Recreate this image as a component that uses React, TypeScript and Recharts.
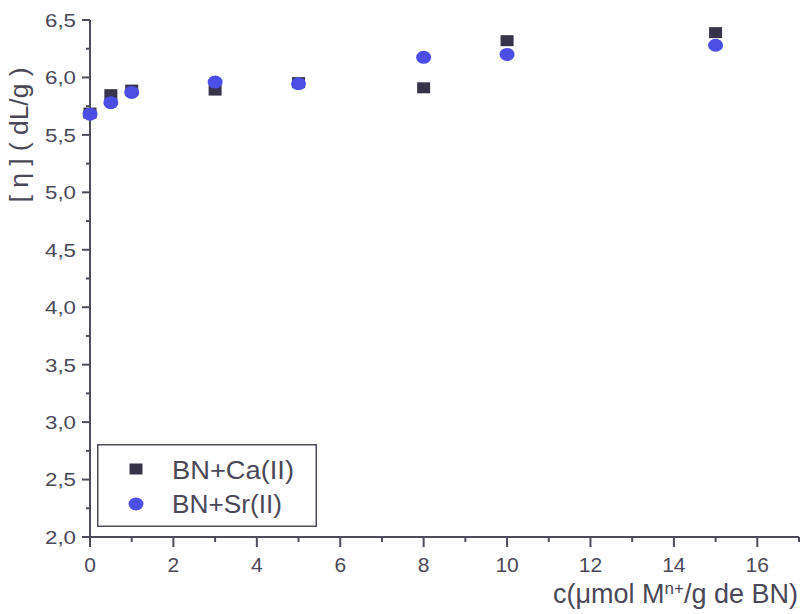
import React from 'react';
import { ScatterChart, Scatter, XAxis, YAxis, Legend } from 'recharts';

const concentrations = [0, 0.5, 1, 3, 5, 8, 10, 15];
const caValues = [5.69, 5.85, 5.89, 5.89, 5.955, 5.91, 6.32, 6.39];
const srValues = [5.68, 5.78, 5.87, 5.96, 5.945, 6.175, 6.2, 6.28];
const seriesNames = ['BN+Ca(II)', 'BN+Sr(II)'];
const xTicks = [0, 1, 2, 3, 4, 5, 6, 7, 8, 9, 10, 11, 12, 13, 14, 15, 16, 17];
const yTicks = [2, 2.25, 2.5, 2.75, 3, 3.25, 3.5, 3.75, 4, 4.25, 4.5, 4.75, 5, 5.25, 5.5, 5.75, 6, 6.25, 6.5];
const xLabelMain = 'c(\u03bcmol M';
const xLabelSup = 'n+';
const xLabelEnd = '/g de BN)';
const yLabel = '[ \u03b7 ] ( dL/g )';

const caData = concentrations.map((x, i) => ({ x, y: caValues[i] }));
const srData = concentrations.map((x, i) => ({ x, y: srValues[i] }));

const AXIS = '#4e4c5c';
const TEXT = '#4a4858';
const SQUARE = '#37344a';
const CIRCLE = '#4b4fe6';
const FONT = '"Liberation Sans", Arial, sans-serif';

const SquareShape = (props: any) => {
  const { cx, cy } = props;
  return <rect x={cx - 6.5} y={cy - 5.5} width={13} height={11} fill={SQUARE} />;
};
const CircleShape = (props: any) => {
  const { cx, cy } = props;
  return <ellipse cx={cx} cy={cy} rx={7.5} ry={6.5} fill={CIRCLE} />;
};

const YTick = (props: any) => {
  const { x, y, payload } = props;
  const v = payload.value as number;
  const major = Math.abs(v * 2 - Math.round(v * 2)) < 1e-6;
  return (
    <g>
      <line x1={x - (major ? 8 : 4)} x2={x} y1={y} y2={y} stroke={AXIS} strokeWidth={2} />
      {major && (
        <text
          x={x - 14}
          y={y}
          dy="0.36em"
          textAnchor="end"
          fontSize={19}
          fontFamily={FONT}
          fill={TEXT}
          textLength={31}
          lengthAdjust="spacingAndGlyphs"
        >
          {v.toFixed(1).replace('.', ',')}
        </text>
      )}
    </g>
  );
};

const XTick = (props: any) => {
  const { x, y, payload } = props;
  const v = payload.value as number;
  const major = v % 2 === 0;
  return (
    <g>
      <line x1={x} x2={x} y1={y} y2={y + (major ? 10 : 5)} stroke={AXIS} strokeWidth={2} />
      {major && (
        <text x={x} y={y + 34.5} textAnchor="middle" fontSize={21} fontFamily={FONT} fill={TEXT}>
          {String(v)}
        </text>
      )}
    </g>
  );
};

const XLabel = () => (
  <text x={798} y={603} textAnchor="end" fontSize={27} fontFamily={FONT} fill={TEXT}>
    {xLabelMain}
    <tspan fontSize={17} dy={-9}>{xLabelSup}</tspan>
    <tspan dy={9}>{xLabelEnd}</tspan>
  </text>
);

const YLabel = () => (
  <text
    x={0}
    y={0}
    transform="translate(28,135) rotate(-90)"
    textAnchor="middle"
    fontSize={26}
    fontFamily={FONT}
    fill={TEXT}
    textLength={135}
    lengthAdjust="spacingAndGlyphs"
  >
    {yLabel}
  </text>
);

const LegendBox = () => (
  <svg width={220} height={83} style={{ display: 'block' }}>
    <rect x={0.75} y={0.75} width={218.5} height={81.5} fill="#ffffff" stroke={AXIS} strokeWidth={1.5} />
    <rect x={39 - 6.5} y={25 - 5.5} width={13} height={11} fill={SQUARE} />
    <ellipse cx={39} cy={60} rx={7.5} ry={6.5} fill={CIRCLE} />
    <text x={75} y={35} fontSize={26} fontFamily={FONT} fill={TEXT} textLength={122} lengthAdjust="spacingAndGlyphs">
      {seriesNames[0]}
    </text>
    <text x={75} y={69} fontSize={26} fontFamily={FONT} fill={TEXT} textLength={110} lengthAdjust="spacingAndGlyphs">
      {seriesNames[1]}
    </text>
  </svg>
);

export default function App() {
  return (
    <div style={{ position: 'absolute', left: 0, top: 0, background: '#ffffff' }}>
      <ScatterChart width={801} height={614} margin={{ top: 20, right: 2, bottom: 0, left: 0 }}>
        <XAxis
          type="number"
          dataKey="x"
          domain={[0, 17]}
          ticks={xTicks}
          interval={0}
          height={77}
          tickSize={0}
          tickMargin={0}
          tickLine={false}
          tick={<XTick />}
          axisLine={{ stroke: AXIS, strokeWidth: 2 }}
          label={<XLabel />}
        />
        <YAxis
          type="number"
          dataKey="y"
          domain={[2, 6.5]}
          ticks={yTicks}
          interval={0}
          width={90}
          tickSize={0}
          tickMargin={0}
          tickLine={false}
          tick={<YTick />}
          axisLine={{ stroke: AXIS, strokeWidth: 2 }}
          label={<YLabel />}
        />
        <Legend
          layout="horizontal"
          verticalAlign="middle"
          align="center"
          content={<LegendBox />}
          wrapperStyle={{ left: 97, top: 444, width: 220, height: 83 }}
        />
        <Scatter name={seriesNames[0]} data={caData} shape={<SquareShape />} fill={SQUARE} isAnimationActive={false} />
        <Scatter name={seriesNames[1]} data={srData} shape={<CircleShape />} fill={CIRCLE} isAnimationActive={false} />
      </ScatterChart>
    </div>
  );
}
